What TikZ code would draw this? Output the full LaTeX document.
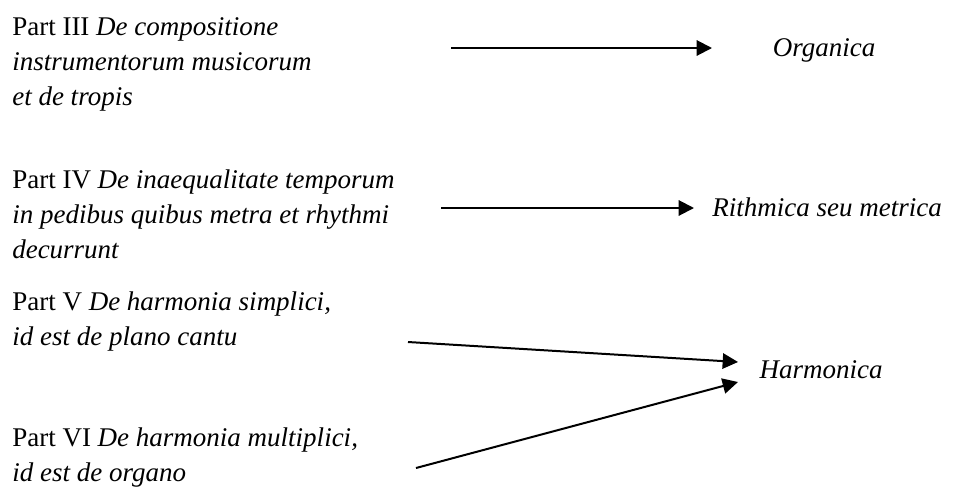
\documentclass[tikz,border=0pt]{standalone}
\usepackage{fontspec}
\setmainfont{Liberation Serif}
\usetikzlibrary{arrows.meta}
\begin{document}
\begin{tikzpicture}[x=0.75pt,y=-0.75pt,
  parttext/.style={anchor=north west,inner sep=0pt,align=left,
    font=\fontsize{20.25pt}{26.25pt}\selectfont},
  label/.style={anchor=base,inner sep=0pt,
    font=\fontsize{20.25pt}{26.25pt}\selectfont\itshape},
  conn/.style={line width=1.5pt,-{Triangle[length=11.5pt,width=11.5pt]}}]
\useasboundingbox (0,0) rectangle (962,497);

% left column: the parts of the treatise
\node[parttext] (p3) at (12,17) {Part III \textit{De compositione}\\
  \textit{instrumentorum musicorum}\\ \textit{et de tropis}};
\node[parttext] (p4) at (12,169) {Part IV \textit{De inaequalitate temporum}\\
  \textit{in pedibus quibus metra et rhythmi}\\ \textit{decurrunt}};
\node[parttext] (p5) at (12,291) {Part V \textit{De harmonia simplici,}\\
  \textit{id est de plano cantu}};
\node[parttext] (p6) at (12,427) {Part VI \textit{De harmonia multiplici,}\\
  \textit{id est de organo}};

% right column: the branches of music
\node[label] (org) at (824,56) {Organica};
\node[label,anchor=base west] (rit) at (712,216) {Rithmica seu metrica};
\node[label] (har) at (821,378) {Harmonica};

% arrow end points
\coordinate (a3s) at (451,48);  \coordinate (a3e) at (712,48);
\coordinate (a4s) at (441,208); \coordinate (a4e) at (694,208);
\coordinate (a5s) at (408,342); \coordinate (a5e) at (738,362);
\coordinate (a6s) at (416,468); \coordinate (a6e) at (738,382);

\draw[conn] (a3s) -- (a3e);
\draw[conn] (a4s) -- (a4e);
\draw[conn] (a5s) -- (a5e);
\draw[conn] (a6s) -- (a6e);
\end{tikzpicture}
\end{document}
